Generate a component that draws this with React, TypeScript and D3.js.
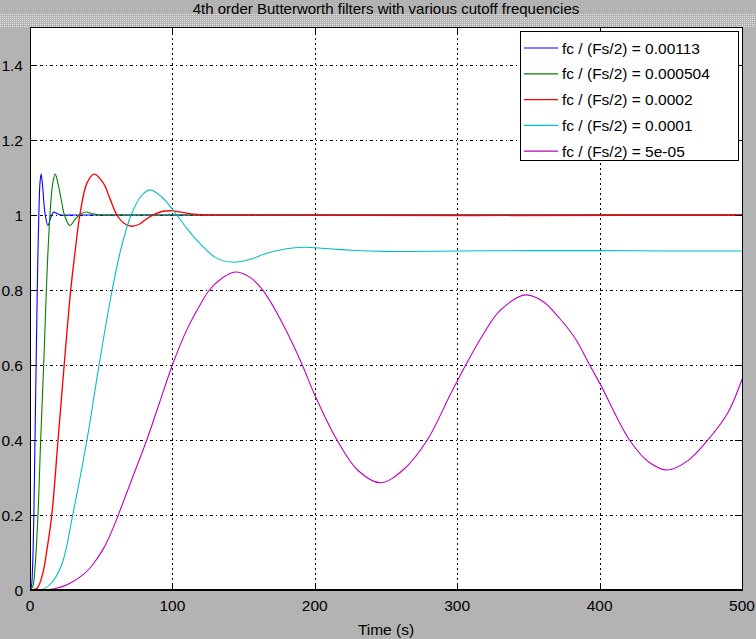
import React, { useEffect, useRef } from "react";
import * as d3 from "d3";

const titleText = "4th order Butterworth filters with various cutoff frequencies";
const xLabel = "Time (s)";
const xTicks = [0, 100, 200, 300, 400, 500];
const yTicks = [0, 0.2, 0.4, 0.6, 0.8, 1, 1.2, 1.4];

const seriesNames = [
  "fc / (Fs/2) = 0.00113",
  "fc / (Fs/2) = 0.000504",
  "fc / (Fs/2) = 0.0002",
  "fc / (Fs/2) = 0.0001",
  "fc / (Fs/2) = 5e-05",
];
const seriesColors = ["#0000ff", "#008000", "#ff0000", "#00bfbf", "#bf00bf"];

const tBlue = [0, 1.0, 1.8, 2.7, 3.5, 4.3, 5.1, 5.6, 6.2, 7.0, 7.8, 8.8, 9.6, 10.7, 12.6, 14.6, 16.6, 19, 22, 30, 500];
const vBlue = [0, 0.01, 0.06, 0.2, 0.4, 0.6, 0.8, 0.9, 1.0, 1.085, 1.109, 1.08, 1.04, 1.0, 0.972, 0.993, 1.008, 1.004, 1.0, 1.0, 1.0];

const tGreen = [0, 2, 3.5, 5.6, 7.5, 9.6, 11.5, 12.6, 14, 16, 17.7, 19.6, 22, 24.2, 28, 32, 36, 39.5, 44, 50, 60, 500];
const vGreen = [0, 0.01, 0.06, 0.2, 0.4, 0.6, 0.8, 0.9, 1.0, 1.085, 1.109, 1.085, 1.04, 1.0, 0.972, 0.99, 1.004, 1.008, 1.003, 1.0, 1.0, 1.0];

const tRed = [0, 5, 9, 12, 15.3, 19.7, 24, 28.6, 31.6, 35, 40, 45, 51.5, 56, 61, 66, 71.5, 77, 82, 88, 93.5, 100, 107, 115, 125, 500];
const vRed = [0, 0.005, 0.045, 0.11, 0.2, 0.4, 0.6, 0.8, 0.9, 1.0, 1.085, 1.109, 1.085, 1.045, 1.0, 0.978, 0.97, 0.976, 0.99, 1.003, 1.01, 1.011, 1.007, 1.002, 1.0, 1.0];

const tCyan = [0, 9, 15, 22.5, 30, 40, 48.5, 57.7, 63.7, 71, 78, 84, 92, 100.5, 110, 119, 131, 143, 155, 166, 180, 192, 210, 225, 250, 300, 350, 400, 450, 500];
const vCyan = [0, 0.002, 0.018, 0.07, 0.2, 0.4, 0.6, 0.8, 0.907, 1.0, 1.05, 1.067, 1.05, 1.013, 0.965, 0.925, 0.885, 0.874, 0.882, 0.898, 0.91, 0.914, 0.91, 0.906, 0.903, 0.904, 0.905, 0.905, 0.904, 0.904];

const tMagenta = [0, 10, 17.5, 24, 30, 36, 42, 47, 52, 57, 62, 72, 82, 91, 100, 110, 119.4, 126, 135, 144, 154, 164, 178, 191, 200, 215, 230, 246, 262, 279, 295, 306, 318, 330, 348, 360, 372, 383, 393, 401, 421, 435, 448, 462, 476, 490, 500];
const vMagenta = [0, 0, 0.004, 0.011, 0.022, 0.037, 0.058, 0.083, 0.113, 0.153, 0.2, 0.3, 0.4, 0.5, 0.6, 0.693, 0.76, 0.8, 0.832, 0.848, 0.835, 0.797, 0.706, 0.602, 0.52, 0.404, 0.32, 0.286, 0.32, 0.4, 0.52, 0.6, 0.68, 0.745, 0.787, 0.77, 0.724, 0.67, 0.6, 0.545, 0.4, 0.34, 0.32, 0.345, 0.4, 0.472, 0.562];

const seriesT = [tBlue, tGreen, tRed, tCyan, tMagenta];
const seriesV = [vBlue, vGreen, vRed, vCyan, vMagenta];

export default function App() {
  const ref = useRef<SVGSVGElement | null>(null);

  useEffect(() => {
    document.body.style.margin = "0";
    const svgEl = ref.current;
    if (!svgEl) return;
    const svg = d3.select(svgEl);
    svg.selectAll("*").remove();

    const width = 756;
    const height = 639;
    const left = 30, right = 742, top = 27.5, bottom = 590;
    const font = "Liberation Sans, Arial, sans-serif";

    const x = d3.scaleLinear().domain([0, 500]).range([left, right]);
    const y = d3.scaleLinear().domain([0, 1.5]).range([bottom, top]);

    svg.append("rect").attr("width", width).attr("height", height).attr("fill", "#b3b3b3");

    // faint dotted band under the title
    const defs = svg.append("defs");
    const pat = defs.append("pattern").attr("id", "dots").attr("width", 2).attr("height", 2)
      .attr("patternUnits", "userSpaceOnUse");
    pat.append("rect").attr("width", 2).attr("height", 2).attr("fill", "#b3b3b3");
    pat.append("rect").attr("width", 1).attr("height", 1).attr("fill", "#e6e6e6");
    svg.append("rect").attr("x", 0).attr("y", 14).attr("width", width).attr("height", top - 14)
      .attr("fill", "url(#dots)");

    svg.append("rect").attr("x", left).attr("y", top).attr("width", right - left)
      .attr("height", bottom - top).attr("fill", "#fff");

    // grid
    const grid = svg.append("g").attr("stroke", "#000").attr("stroke-width", 1).attr("shape-rendering", "crispEdges");
    xTicks.slice(1, -1).forEach((t) => {
      grid.append("line").attr("x1", Math.round(x(t)) + 0.5).attr("x2", Math.round(x(t)) + 0.5)
        .attr("y1", top).attr("y2", bottom).attr("stroke-dasharray", "2,3");
    });
    yTicks.slice(1).forEach((v) => {
      grid.append("line").attr("y1", Math.round(y(v)) + 0.5).attr("y2", Math.round(y(v)) + 0.5)
        .attr("x1", left).attr("x2", right).attr("stroke-dasharray", "3,3,1,3");
    });

    // lines
    const clip = defs.append("clipPath").attr("id", "clip");
    clip.append("rect").attr("x", left).attr("y", top).attr("width", right - left).attr("height", bottom - top);
    const lineGen = d3.line<[number, number]>()
      .x((d) => x(d[0]))
      .y((d) => y(d[1]))
      .curve(d3.curveCatmullRom.alpha(0.5));
    const plot = svg.append("g").attr("clip-path", "url(#clip)");
    seriesT.forEach((ts, i) => {
      const pts = ts.map((t, j) => [t, seriesV[i][j]] as [number, number]);
      plot.append("path").attr("d", lineGen(pts)).attr("fill", "none")
        .attr("stroke", seriesColors[i]).attr("stroke-width", i === 2 ? 1.35 : 1.1);
    });

    // box and ticks
    const ax = svg.append("g").attr("stroke", "#000").attr("shape-rendering", "crispEdges");
    ax.append("rect").attr("x", left + 0.5).attr("y", top).attr("width", right - left)
      .attr("height", bottom - top).attr("fill", "none").attr("stroke-width", 1.2);
    const tl = 7;
    xTicks.forEach((t) => {
      const px = Math.round(x(t)) + 0.5;
      ax.append("line").attr("x1", px).attr("x2", px).attr("y1", bottom).attr("y2", bottom - tl);
      ax.append("line").attr("x1", px).attr("x2", px).attr("y1", top).attr("y2", top + tl);
    });
    yTicks.forEach((v) => {
      const py = Math.round(y(v)) + 0.5;
      ax.append("line").attr("y1", py).attr("y2", py).attr("x1", left).attr("x2", left + tl);
      ax.append("line").attr("y1", py).attr("y2", py).attr("x1", right).attr("x2", right - tl);
    });

    const txt = svg.append("g").attr("font-family", font).attr("font-size", 15.5).attr("fill", "#000");
    xTicks.forEach((t) => {
      txt.append("text").attr("x", x(t)).attr("y", 611).attr("text-anchor", "middle").text(String(t));
    });
    yTicks.forEach((v) => {
      txt.append("text").attr("x", 23).attr("y", y(v) + 5.5).attr("text-anchor", "end").text(String(v));
    });
    txt.append("text").attr("x", (left + right) / 2).attr("y", 635).attr("text-anchor", "middle").text(xLabel);
    txt.append("text").attr("x", (left + right) / 2).attr("y", 14).attr("font-size", 15)
      .attr("text-anchor", "middle").text(titleText);

    // legend
    const lg = svg.append("g");
    lg.append("rect").attr("x", 520.5).attr("y", 31.5).attr("width", 218).attr("height", 129)
      .attr("fill", "#fff").attr("stroke", "#000");
    seriesNames.forEach((name, i) => {
      const ly = 48 + i * 25.8;
      lg.append("line").attr("x1", 524).attr("x2", 558).attr("y1", ly).attr("y2", ly)
        .attr("stroke", seriesColors[i]).attr("stroke-width", 1.2);
      lg.append("text").attr("x", 562).attr("y", ly + 5.5).attr("font-family", font)
        .attr("font-size", 15.5).text(name);
    });
  }, []);

  return <svg ref={ref} width={756} height={639} style={{ display: "block" }} />;
}
